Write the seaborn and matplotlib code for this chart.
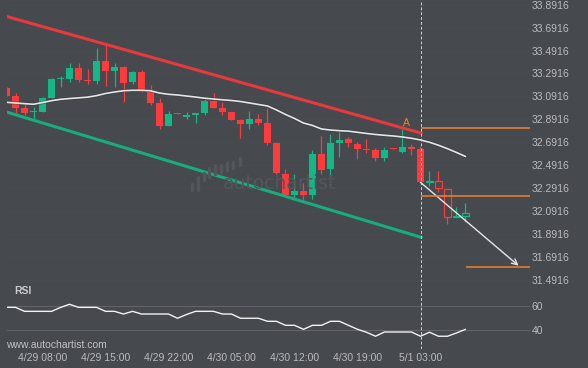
import numpy as np
import pandas as pd
import matplotlib
matplotlib.use('Agg')
import matplotlib.pyplot as plt
from matplotlib.lines import Line2D
import seaborn as sns

# hourly candles, first one is 4/29 04:00 (one hour missing around the daily break)
opens = [33.165, 33.095, 32.990, 32.953, 32.958, 33.080, 33.244, 33.244, 33.340, 33.235,
         33.226, 33.398, 33.316, 33.346, 33.217, 33.305, 33.127, 33.034, 32.836, 32.944,
         32.909, 32.932, 32.947, 33.054, 32.990, 32.955, 32.886, 32.853, 32.894, 32.859,
         32.685, 32.414, 32.231, 32.265, 32.231, 32.589, 32.458, 32.687, 32.720, 32.676,
         32.632, 32.625, 32.556, 32.631, 32.606, 32.650, 32.630, 32.341, 32.353, 32.280,
         32.036, 32.047]
highs = [33.170, 33.119, 33.040, 33.002, 33.089, 33.255, 33.270, 33.381, 33.381, 33.328,
         33.517, 33.541, 33.381, 33.360, 33.313, 33.322, 33.191, 33.075, 32.967, 32.947,
         32.953, 32.947, 33.066, 33.119, 33.045, 32.955, 32.892, 32.964, 32.938, 32.988,
         32.696, 32.455, 32.414, 32.333, 32.624, 32.746, 32.763, 32.781, 32.740, 32.696,
         32.717, 32.638, 32.652, 32.632, 32.804, 32.673, 32.650, 32.440, 32.440, 32.280,
         32.123, 32.158]
lows = [33.098, 32.944, 32.929, 32.894, 32.958, 33.075, 33.171, 33.215, 33.215, 33.197,
        33.197, 33.185, 33.171, 33.045, 33.200, 33.127, 33.017, 32.804, 32.836, 32.938,
        32.897, 32.862, 32.932, 32.988, 32.929, 32.886, 32.726, 32.807, 32.839, 32.667,
        32.414, 32.231, 32.187, 32.187, 32.193, 32.414, 32.385, 32.565, 32.652, 32.542,
        32.595, 32.530, 32.530, 32.627, 32.595, 32.580, 32.335, 32.312, 32.254, 31.977,
        32.036, 31.997]
closes = [33.098, 32.993, 32.949, 32.958, 33.075, 33.241, 33.252, 33.340, 33.238, 33.229,
          33.398, 33.316, 33.346, 33.211, 33.305, 33.148, 33.031, 32.836, 32.941, 32.941,
          32.932, 32.947, 33.054, 32.990, 32.955, 32.886, 32.853, 32.894, 32.859, 32.687,
          32.420, 32.231, 32.265, 32.231, 32.589, 32.449, 32.685, 32.711, 32.682, 32.632,
          32.627, 32.556, 32.625, 32.628, 32.650, 32.630, 32.341, 32.353, 32.289, 32.036,
          32.050, 32.076]
ma = [33.040, 33.034, 33.028, 33.023, 33.038, 33.054, 33.066, 33.073, 33.079, 33.085,
      33.098, 33.117, 33.130, 33.141, 33.145, 33.145, 33.141, 33.121, 33.110, 33.104,
      33.095, 33.086, 33.076, 33.069, 33.062, 33.056, 33.047, 33.034, 33.021, 33.008,
      32.973, 32.934, 32.899, 32.859, 32.838, 32.807, 32.798, 32.792, 32.788, 32.778,
      32.768, 32.759, 32.752, 32.746, 32.737, 32.726, 32.711, 32.691, 32.665, 32.635,
      32.602, 32.567]
rsi = [58.9, 58.9, 55.6, 55.6, 55.6, 55.6, 58.8, 61.4, 58.9, 58.9,
       58.9, 55.6, 55.6, 53.4, 55.6, 53.4, 53.4, 53.4, 53.4, 49.9,
       53.0, 55.6, 55.6, 55.6, 53.4, 53.4, 49.9, 49.9, 49.9, 47.4,
       47.4, 44.1, 44.1, 40.8, 44.1, 44.1, 47.4, 47.4, 44.1, 40.8,
       38.4, 35.1, 38.6, 38.6, 38.6, 38.6, 35.1, 38.4, 35.1, 35.1,
       37.8, 40.8]

tick_idx = [4, 11, 18, 25, 32, 39, 46]
tick_labels = ['4/29 08:00', '4/29 15:00', '4/29 22:00', '4/30 05:00',
               '4/30 12:00', '4/30 19:00', '5/1 03:00']
price_ticks = [31.4916, 31.6916, 31.8916, 32.0916, 32.2916, 32.4916,
               32.6916, 32.8916, 33.0916, 33.2916, 33.4916, 33.6916, 33.8916]
rsi_ticks = [40, 60]

# channel lines and pattern levels
resistance = ([0, 46.1], [33.790, 32.770])
support = ([0, 46.1], [32.955, 31.860])
level_a = 32.813
level_b = 32.222
target = 31.605
arrow_from = (46, 32.341)
arrow_to = (56.9, 31.613)
break_idx = 46.1
first_live = 47  # candles after the break are drawn hollow

bg = '#46494e'
up, down = '#13b886', '#fd3a3c'
orange = '#f0812f'
txt = '#b9bbbe'

sns.set_theme(style='dark', rc={'axes.facecolor': bg, 'figure.facecolor': bg,
                                'axes.edgecolor': bg})
plt.rcParams['font.family'] = ['Liberation Sans', 'DejaVu Sans']

df = pd.DataFrame({'o': opens, 'h': highs, 'l': lows, 'c': closes, 'ma': ma, 'rsi': rsi})
df['x'] = np.arange(len(df))

fig = plt.figure(figsize=(5.88, 3.68), dpi=100)
ax = fig.add_axes([6.7 / 588, 1 - 282 / 368, 523.3 / 588, 282 / 368])
ax_rsi = fig.add_axes([6.7 / 588, 1 - 349 / 368, 523.3 / 588, 67 / 368])

# watermark
wm = '#53565b'
for bx, y0, y1 in [(192, 184, 190), (197.5, 177, 190), (203.5, 173, 180), (209, 168, 177),
                   (215, 165, 174), (221, 165, 172), (227, 163, 170), (233, 162, 168),
                   (240, 158, 165)]:
    fig.add_artist(Line2D([bx / 588, bx / 588], [1 - y0 / 368, 1 - y1 / 368],
                          color=wm, lw=2.4, solid_capstyle='round', zorder=0.5))
fig.text(223 / 588, 1 - 189 / 368, 'autochartist', color=wm, fontsize=13.5,
         family='DejaVu Sans', va='baseline', zorder=0.5)

# candles
for _, r in df.iterrows():
    col = up if r.c >= r.o else down
    ax.vlines(r.x, r.l, r.h, color=col, lw=0.9, zorder=2)
    body = max(abs(r.c - r.o), 0.009)
    bottom = min(r.o, r.c)
    if r.x >= first_live:
        ax.bar(r.x, body, bottom=bottom, width=0.72, facecolor=bg, edgecolor=col,
               linewidth=0.9, zorder=3)
    else:
        ax.bar(r.x, body, bottom=bottom, width=0.78, color=col, linewidth=0, zorder=3)

sns.lineplot(x=resistance[0], y=resistance[1], ax=ax, color='#e8393d', lw=2.2, zorder=4)
sns.lineplot(x=support[0], y=support[1], ax=ax, color='#17ad7c', lw=2.2, zorder=4)
sns.lineplot(data=df, x='x', y='ma', ax=ax, color='#2f3135', lw=2.4, alpha=0.4, zorder=4)
sns.lineplot(data=df, x='x', y='ma', ax=ax, color='#e6e6e6', lw=1.2, zorder=5)

ax.hlines([level_a, level_b], break_idx, 58.3, color=orange, lw=1.1, zorder=5)
ax.hlines(target, 51.1, 58.3, color=orange, lw=1.1, zorder=5)
ax.text(44.45, 32.862, 'A', color=orange, fontsize=7.5, ha='center', va='center')
ax.annotate('', xy=arrow_to, xytext=arrow_from,
            arrowprops=dict(arrowstyle='->', color='#e6e6e6', lw=1, shrinkA=0, shrinkB=0,
                            mutation_scale=10))

for a in (ax, ax_rsi):
    a.axvline(break_idx, color='#d0d1d3', lw=0.7, ls=(0, (3, 2)), zorder=6)
    a.set_xlim(0.02, 58.17)
    a.set_xlabel('')
    a.set_ylabel('')
    a.yaxis.tick_right()
    a.tick_params(axis='y', length=0, pad=1, labelsize=7.5, colors=txt)
    for s in a.spines.values():
        s.set_visible(False)

ax.set_ylim(31.4706, 33.9335)
ax.set_yticks(price_ticks)
ax.set_yticklabels([f'{v:.4f}' for v in price_ticks])
ax.grid(axis='y', color='#494c51', lw=0.6)
ax.tick_params(axis='x', bottom=False, labelbottom=False)

sns.lineplot(data=df, x='x', y='rsi', ax=ax_rsi, color='#f2f2f2', lw=1)
ax_rsi.set_ylim(24.6, 79.75)
ax_rsi.set_yticks(rsi_ticks)
ax_rsi.grid(axis='y', color='#5f6267', lw=0.8)
ax_rsi.set_xticks(tick_idx)
ax_rsi.set_xticklabels(tick_labels)
ax_rsi.tick_params(axis='x', length=0, pad=3, labelsize=7.5, colors=txt)
ax_rsi.set_xlabel('')
ax_rsi.set_ylabel('')

fig.text(14 / 588, 1 - 291 / 368, 'RSI', color='#c9cbce', fontsize=7.5,
         fontweight='bold', va='center')
fig.text(6 / 588, 1 - 345 / 368, 'www.autochartist.com', color='#c0c2c5',
         fontsize=7.5, va='center')

fig.savefig('out.png', dpi=100, facecolor=bg)
